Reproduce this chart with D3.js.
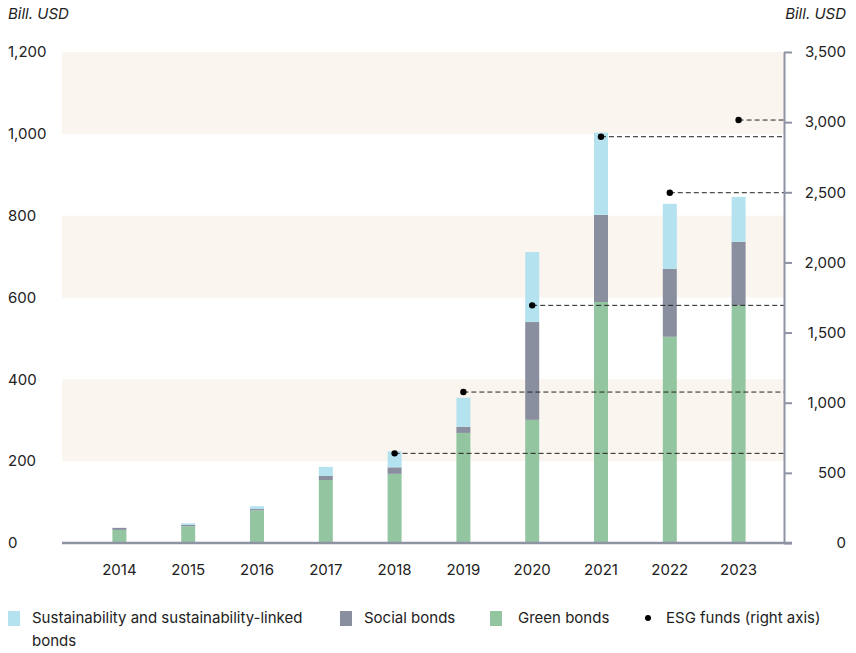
<!DOCTYPE html>
<html>
  <head>
    <meta charset="utf-8">
    <title>Sustainable bonds and ESG funds</title>
    <script src="https://cdn.jsdelivr.net/npm/d3@7"></script>
    <style>
      body { margin: 0; background: #fff; }
      text { font-family: Inter, "Open Sans", sans-serif; fill: #222; }
    </style>
  </head>
  <body>
    <script>
     // data (bill. USD)
     let years = ["2014", "2015", "2016", "2017", "2018", "2019", "2020", "2021", "2022", "2023"];
     let green = [32, 41, 80, 154, 169, 269, 301, 589, 504, 581];
     let social = [5, 3, 3, 10, 16, 15, 239, 213, 166, 155];
     let sustain = [0, 4, 7, 22, 39, 71, 171, 201, 159, 110];
     let esgYears = ["2018", "2019", "2020", "2021", "2022", "2023"];
     let esgFunds = [639, 1076, 1694, 2896, 2497, 3015];
     let leftTicks = [0, 200, 400, 600, 800, 1000, 1200];
     let rightTicks = [0, 500, 1000, 1500, 2000, 2500, 3000, 3500];
     let bandRanges = [[200, 400], [600, 800], [1000, 1200]];
     let legendLabels = ["Sustainability and sustainability-linked", "Social bonds", "Green bonds", "ESG funds (right axis)"];

     let w = 856, h = 653;
     let plot = {left: 62, right: 784, top: 52, bottom: 543};
     let colors = {green: "#93c5a0", social: "#8a8f9f", sustain: "#b5e2ef", band: "#faf5ef", axis: "#8e93a3"};
     let fs = 15;

     let svg = d3.select("body").append("svg")
		 .attr("width", w)
		 .attr("height", h)
		 .style("display", "block");

     let x = d3.scaleBand()
	       .domain(years)
	       .range([85, 773]);
     let y = d3.scaleLinear()
	       .domain([0, 1200])
	       .range([plot.bottom, plot.top]);
     let y2 = d3.scaleLinear()
		.domain([0, 3500])
		.range([plot.bottom, plot.top]);

     // background bands
     svg.selectAll("rect.band")
	.data(bandRanges)
	.enter()
	.append("rect")
	.attr("class", "band")
	.attr("x", plot.left)
	.attr("width", plot.right - plot.left)
	.attr("y", (d) => y(d[1]))
	.attr("height", (d) => y(d[0]) - y(d[1]))
	.attr("fill", colors.band);

     // stacked bars
     let rows = years.map((yr, i) => ({year: yr, green: green[i], social: social[i], sustain: sustain[i]}));
     let keys = ["green", "social", "sustain"];
     let stack = d3.stack().keys(keys)(rows);
     let barW = 14;

     svg.append("g")
	.selectAll("g")
	.data(stack)
	.enter()
	.append("g")
	.attr("fill", (d) => colors[d.key])
	.selectAll("rect")
	.data((d) => d)
	.enter()
	.append("rect")
	.attr("x", (d) => x(d.data.year) + x.bandwidth() / 2 - barW / 2)
	.attr("width", barW)
	.attr("y", (d) => y(d[1]))
	.attr("height", (d) => y(d[0]) - y(d[1]));

     // ESG dashed guide lines + dots
     let esg = esgYears.map((yr, i) => ({year: yr, v: esgFunds[i]}));
     svg.selectAll("line.guide")
	.data(esg)
	.enter()
	.append("line")
	.attr("class", "guide")
	.attr("x1", (d) => x(d.year) + x.bandwidth() / 2)
	.attr("x2", plot.right)
	.attr("y1", (d) => y2(d.v))
	.attr("y2", (d) => y2(d.v))
	.attr("stroke", "#222")
	.attr("stroke-width", 1)
	.attr("stroke-dasharray", "5,3");
     svg.selectAll("circle.esg")
	.data(esg)
	.enter()
	.append("circle")
	.attr("class", "esg")
	.attr("cx", (d) => x(d.year) + x.bandwidth() / 2)
	.attr("cy", (d) => y2(d.v))
	.attr("r", 3.2)
	.attr("fill", "#000");

     // left axis labels (no line)
     svg.append("g")
	.selectAll("text")
	.data(leftTicks)
	.enter()
	.append("text")
	.attr("x", 8)
	.attr("y", (d) => y(d))
	.attr("dy", "0.35em")
	.attr("font-size", fs)
	.text(d3.format(","));

     // bottom axis
     let xAxis = d3.axisBottom(x).tickSize(0).tickPadding(21);
     let gx = svg.append("g")
		 .attr("transform", "translate(0," + plot.bottom + ")")
		 .call(xAxis);
     gx.select(".domain").remove();
     gx.selectAll("text").attr("font-size", fs).style("font-family", "Inter, sans-serif").attr("fill", "#222");
     svg.append("line")
	.attr("x1", plot.left)
	.attr("x2", plot.right + 8)
	.attr("y1", plot.bottom)
	.attr("y2", plot.bottom)
	.attr("stroke", colors.axis)
	.attr("stroke-width", 2.5);

     // right axis
     let yAxis2 = d3.axisRight(y2).tickValues(rightTicks).tickSize(8).tickSizeOuter(0).tickFormat(() => "");
     let gy = svg.append("g")
		 .attr("transform", "translate(" + plot.right + ",0)")
		 .call(yAxis2);
     gy.selectAll("path, line").attr("stroke", colors.axis).attr("stroke-width", 2);
     svg.append("g")
	.selectAll("text")
	.data(rightTicks)
	.enter()
	.append("text")
	.attr("x", 846)
	.attr("y", (d) => y2(d))
	.attr("dy", "0.35em")
	.attr("text-anchor", "end")
	.attr("font-size", fs)
	.text(d3.format(","));

     // units
     svg.append("text").attr("x", 8).attr("y", 19).attr("font-size", fs).attr("font-style", "italic").text("Bill. USD");
     svg.append("text").attr("x", 846).attr("y", 19).attr("text-anchor", "end").attr("font-size", fs).attr("font-style", "italic").text("Bill. USD");

     // legend
     let legend = svg.append("g").attr("transform", "translate(0,618)");
     let items = [
       {x: 8, tx: 32, color: colors.sustain, label: legendLabels[0]},
       {x: 340, tx: 364, color: colors.social, label: legendLabels[1]},
       {x: 490, tx: 518, color: colors.green, label: legendLabels[2]}
     ];
     legend.selectAll("rect")
	   .data(items)
	   .enter()
	   .append("rect")
	   .attr("x", (d) => d.x)
	   .attr("y", -7)
	   .attr("width", 12)
	   .attr("height", 15)
	   .attr("fill", (d) => d.color);
     legend.selectAll("text.lab")
	   .data(items)
	   .enter()
	   .append("text")
	   .attr("class", "lab")
	   .attr("x", (d) => d.tx)
	   .attr("dy", "0.35em")
	   .attr("font-size", fs)
	   .text((d) => d.label);
     legend.append("text").attr("x", 32).attr("y", 23).attr("dy", "0.35em").attr("font-size", fs).text("bonds");
     legend.append("circle").attr("cx", 648).attr("cy", 0).attr("r", 3).attr("fill", "#000");
     legend.append("text").attr("x", 666).attr("dy", "0.35em").attr("font-size", fs).text(legendLabels[3]);
    </script>
  </body>
</html>
